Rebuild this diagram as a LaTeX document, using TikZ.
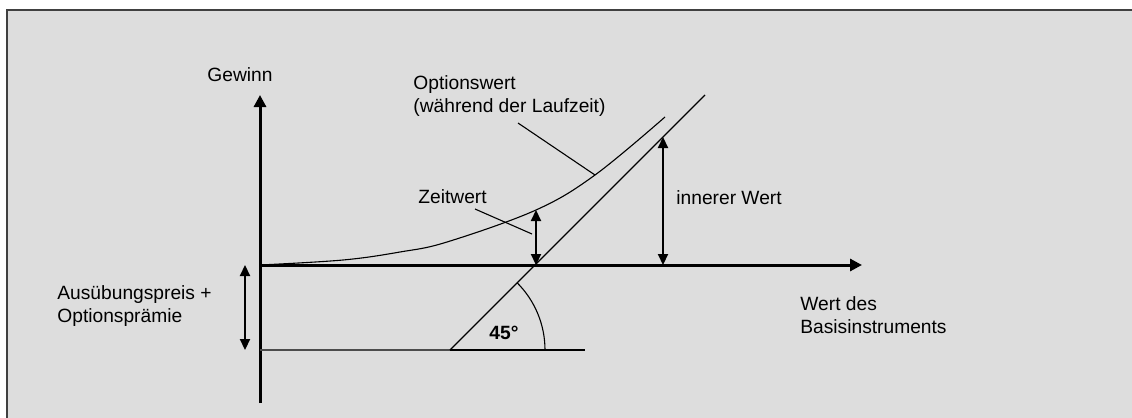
\documentclass[tikz,border=0pt]{standalone}
\usepackage{fontspec}
\setmainfont{Liberation Sans}
\usetikzlibrary{arrows.meta,calc}

\begin{document}
\begin{tikzpicture}[
  x=0.5pt, y=-0.5pt,
  font=\fontsize{9.6}{11.5}\selectfont,
  every node/.style={align=left, inner sep=0pt},
  axis/.style={line width=1.5pt, -{Triangle[length=6pt, width=6pt]}},
  measure/.style={line width=1.1pt, {Triangle[length=5.5pt, width=5pt]}-{Triangle[length=5.5pt, width=5pt]}},
  thin line/.style={line width=0.55pt},
  lbl/.style={anchor=west},
]
  \useasboundingbox (0,0) rectangle (1132,418);
  \fill[white] (0,0) rectangle (1132,418);
  \draw[line width=1pt, draw=black!75, fill={rgb,255:red,221;green,221;blue,221}]
    (7,10) rectangle (1145,430);

  % axes and reference points
  \coordinate (O)    at (260,265);
  \coordinate (ytop) at (260,95);
  \coordinate (ybot) at (260,403);
  \coordinate (xend) at (862,265);
  \coordinate (K)    at (450,350);
  \coordinate (lowL) at (260,350);
  \coordinate (lowR) at (585,350);
  \coordinate (S)    at (536,265);
  \coordinate (D)    at (705,95);
  \coordinate (Z)    at (536,210);
  \coordinate (I)    at (663,137);
  \coordinate (I0)   at (663,265);
  \coordinate (P0)   at (245,265);
  \coordinate (P1)   at (245,350);

  \draw[axis] (ybot) -- (ytop);
  \draw[axis] (O) -- (xend);
  \draw[thin line, draw=black!70] (lowL) -- (K);
  \draw[thin line] (K) -- (lowR);
  \draw[thin line] (K) -- (D);

  % option value curve
  \draw[thin line] plot[smooth, tension=0.6] coordinates
    {(260,265) (343,260) (400,252) (447,242) (536,210) (595,175) (665,117)};

  \draw[measure] (Z) -- (S);
  \draw[measure] (I) -- (I0);
  \draw[measure] (P0) -- (P1);

  % 45 degree angle
  \draw[thin line] ($(K)+(-45:95)$) arc[start angle=-45, end angle=0, radius=95];
  \node[font=\fontsize{9.6}{11.5}\selectfont\bfseries] (deg) at (504,333) {45°};

  % labels
  \node (gewinn) at (240,75) {Gewinn};
  \node[lbl] (optw) at (413,96) {Optionswert\\(während der Laufzeit)};
  \node[lbl] (zeit) at (418,197) {Zeitwert};
  \node[lbl] (inner) at (676,198) {innerer Wert};
  \node[lbl] (praem) at (57,306) {Ausübungspreis +\\Optionsprämie};
  \node[lbl] (basis) at (800,315) {Wert des\\Basisinstruments};

  % leaders
  \coordinate (optA) at (518,123);
  \coordinate (optB) at (595,175);
  \coordinate (zeitA) at (475,209);
  \coordinate (zeitB) at (532,234);
  \draw[thin line] (optA) -- (optB);
  \draw[thin line] (zeitA) -- (zeitB);
\end{tikzpicture}
\end{document}
